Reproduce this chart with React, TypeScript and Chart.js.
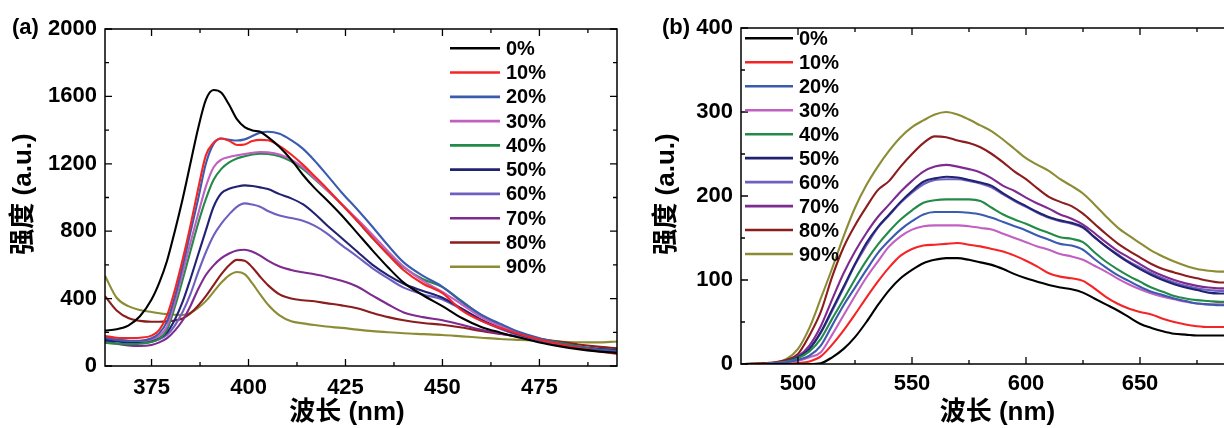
import React, { useEffect, useRef } from "react";
import { Chart, registerables } from "chart.js";

Chart.register(...registerables);

// ---------- shared ----------
const SERIES_LABELS = ["0%", "10%", "20%", "30%", "40%", "50%", "60%", "70%", "80%", "90%"];
const SERIES_COLORS = [
  "#000000",
  "#f52525",
  "#3b5bb0",
  "#c260c2",
  "#238a48",
  "#222272",
  "#6e60c0",
  "#7e2a8e",
  "#8b1d1d",
  "#8c8c34",
];

// ---------- panel (a) ----------
const WAVE_A = [363, 366, 369, 372, 375, 377, 379, 381, 383, 385, 387, 389, 391, 393, 395, 397, 399, 401, 403, 405, 408, 411, 414, 417, 420, 424, 428, 432, 436, 440, 445, 450, 455, 460, 465, 470, 475, 480, 485, 490, 495];
const A_0 = [210, 218, 240, 295, 395, 495, 625, 800, 990, 1200, 1410, 1580, 1638, 1622, 1550, 1465, 1418, 1398, 1390, 1358, 1300, 1225, 1135, 1057, 990, 895, 790, 685, 585, 495, 420, 355, 285, 232, 198, 168, 140, 118, 100, 87, 78];
const A_10 = [178, 168, 166, 168, 180, 215, 300, 450, 630, 830, 1050, 1250, 1325, 1350, 1336, 1312, 1315, 1335, 1342, 1340, 1305, 1255, 1195, 1127, 1058, 960, 862, 760, 660, 568, 488, 432, 330, 268, 225, 188, 157, 130, 106, 88, 72];
const A_20 = [168, 155, 150, 150, 165, 195, 265, 410, 590, 790, 990, 1200, 1318, 1350, 1343, 1338, 1345, 1365, 1385, 1390, 1378, 1340, 1290, 1220, 1140, 1030, 930, 825, 715, 615, 535, 470, 380, 305, 250, 200, 165, 135, 112, 96, 86];
const A_30 = [175, 160, 150, 148, 158, 180, 235, 380, 550, 730, 900, 1065, 1180, 1225, 1240, 1250, 1258, 1265, 1270, 1268, 1255, 1225, 1180, 1115, 1050, 962, 872, 778, 680, 590, 505, 440, 365, 290, 236, 192, 158, 130, 108, 92, 82];
const A_40 = [138, 132, 130, 132, 142, 162, 215, 350, 510, 680, 845, 990, 1105, 1170, 1208, 1232, 1245, 1255, 1260, 1258, 1245, 1215, 1170, 1110, 1048, 960, 862, 758, 665, 585, 515, 468, 385, 300, 240, 192, 163, 140, 115, 98, 88];
const A_50 = [155, 145, 140, 140, 150, 165, 200, 275, 380, 515, 660, 805, 945, 1025, 1052, 1065, 1072, 1068, 1060, 1050, 1020, 995, 960, 905, 840, 760, 680, 600, 538, 488, 445, 405, 340, 275, 225, 185, 155, 130, 112, 100, 95];
const A_60 = [160, 148, 140, 138, 145, 158, 185, 240, 320, 425, 555, 675, 775, 845, 900, 945, 965, 958, 945, 920, 893, 878, 862, 833, 790, 717, 650, 580, 520, 465, 425, 395, 335, 270, 220, 180, 150, 125, 108, 97, 92];
const A_70 = [150, 132, 122, 119, 125, 140, 165, 210, 270, 355, 455, 540, 597, 640, 668, 686, 690, 678, 655, 625, 590, 570, 556, 544, 530, 506, 472, 418, 365, 318, 290, 272, 245, 215, 192, 172, 150, 132, 115, 102, 95];
const A_80 = [415, 330, 285, 268, 263, 263, 265, 270, 282, 312, 358, 415, 480, 545, 598, 630, 625, 585, 530, 480, 425, 400, 390, 384, 373, 360, 343, 315, 290, 271, 255, 245, 228, 208, 190, 175, 160, 145, 128, 115, 105];
const A_90 = [535, 405, 355, 332, 320, 313, 308, 304, 303, 315, 345, 385, 440, 495, 538, 558, 545, 490, 425, 365, 300, 265, 253, 243, 234, 226, 216, 207, 200, 194, 189, 184, 176, 168, 160, 155, 150, 145, 141, 140, 145];
const SERIES_A = [A_0, A_10, A_20, A_30, A_40, A_50, A_60, A_70, A_80, A_90];

const X_TICKS_A = [375, 400, 425, 450, 475];
const X_MINOR_A = [387.5, 412.5, 437.5, 462.5, 487.5];
const Y_TICKS_A = [0, 400, 800, 1200, 1600, 2000];
const Y_MINOR_A = [200, 600, 1000, 1400, 1800];

// ---------- panel (b) ----------
const WAVE_B = [475, 485, 490, 495, 500, 505, 510, 515, 520, 525, 530, 535, 540, 545, 550, 555, 560, 565, 570, 575, 580, 585, 590, 595, 600, 605, 610, 615, 620, 625, 630, 635, 640, 645, 650, 655, 660, 665, 670, 675, 680, 685, 690];
const B_0 = [0, 0, 0, 0, 0, 0, 1, 8, 18, 32, 50, 70, 88, 102, 112, 120, 124, 126, 126, 124, 121, 118, 113, 107, 102, 98, 94, 91, 89, 85, 78, 71, 64, 56, 48, 43, 39, 36, 35, 34, 34, 34, 34];
const B_10 = [0, 0, 0, 0, 1, 3, 9, 23, 40, 59, 79, 98, 115, 129, 137, 141, 142, 143, 144, 142, 140, 137, 134, 129, 123, 116, 108, 104, 102, 99, 90, 80, 72, 66, 62, 59, 54, 50, 47, 45, 44, 44, 44];
const B_20 = [0, 0, 1, 2, 5, 10, 22, 46, 70, 91, 112, 132, 147, 160, 170, 178, 181, 181, 181, 180, 178, 174, 169, 164, 159, 153, 148, 143, 141, 136, 125, 115, 106, 99, 92, 86, 82, 78, 75, 72, 71, 70, 70];
const B_30 = [0, 0, 1, 2, 4, 8, 14, 35, 58, 81, 103, 122, 140, 152, 160, 164, 165, 165, 165, 164, 162, 160, 155, 150, 145, 140, 136, 131, 128, 124, 117, 110, 102, 95, 89, 84, 80, 77, 74, 72, 71, 71, 71];
const B_40 = [0, 0, 1, 3, 7, 15, 30, 54, 77, 101, 123, 142, 158, 172, 183, 192, 195, 196, 196, 196, 194, 186, 178, 172, 167, 161, 156, 151, 149, 145, 133, 122, 113, 105, 98, 91, 86, 81, 78, 76, 75, 74, 74];
const B_50 = [0, 0, 1, 3, 8, 18, 38, 65, 92, 119, 144, 163, 178, 193, 206, 217, 221, 223, 222, 219, 216, 212, 203, 195, 188, 181, 175, 171, 168, 163, 151, 140, 130, 121, 113, 106, 100, 95, 91, 88, 85, 84, 84];
const B_60 = [0, 0, 1, 3, 8, 18, 37, 63, 90, 118, 141, 162, 177, 192, 204, 214, 219, 220, 220, 218, 215, 210, 202, 194, 187, 180, 174, 170, 167, 162, 151, 140, 131, 122, 115, 108, 102, 97, 93, 90, 88, 87, 87];
const B_70 = [0, 0, 1, 3, 9, 22, 45, 77, 108, 134, 156, 175, 190, 205, 218, 229, 235, 237, 235, 232, 228, 221, 212, 206, 198, 191, 185, 178, 173, 166, 156, 145, 135, 127, 119, 111, 105, 100, 96, 93, 91, 90, 90];
const B_80 = [0, 1, 2, 5, 12, 34, 62, 104, 139, 165, 187, 207, 218, 235, 250, 263, 271, 270, 266, 263, 258, 250, 240, 229, 220, 209, 199, 193, 188, 179, 167, 155, 144, 135, 127, 119, 113, 109, 105, 102, 99, 97, 97];
const B_90 = [0, 1, 2, 6, 18, 43, 78, 114, 152, 186, 213, 235, 254, 270, 282, 290, 297, 300, 297, 291, 284, 277, 267, 256, 245, 237, 230, 220, 212, 203, 190, 176, 163, 153, 144, 135, 128, 122, 117, 113, 111, 110, 110];
const SERIES_B = [B_0, B_10, B_20, B_30, B_40, B_50, B_60, B_70, B_80, B_90];

const X_TICKS_B = [500, 550, 600, 650];
const X_MAJOR_B = [500, 550, 600, 650, 700];
const X_MINOR_B = [525, 575, 625, 675];
const Y_TICKS_B = [0, 100, 200, 300, 400];
const Y_MINOR_B = [50, 150, 250, 350];

const TICK_FONT = { family: "'Liberation Sans', Arial, Helvetica, sans-serif", size: 22, weight: "bold" as const };
const LEGEND_FONT = "bold 20px 'Liberation Sans', Arial, Helvetica, sans-serif";
const TITLE_FONT = "bold 26px 'Liberation Sans', 'Noto Sans CJK SC', sans-serif";
const TAG_FONT = "bold 22px 'Liberation Sans', Arial, Helvetica, sans-serif";
const X_TITLE = "波长 (nm)";
const Y_TITLE = "强度 (a.u.)";

type PanelCfg = {
  tag: string;
  wave: number[];
  series: number[][];
  xMin: number;
  xMax: number;
  yMax: number;
  xTicks: number[];
  xMajor: number[];
  xMinor: number[];
  yTicks: number[];
  yMinor: number[];
  width: number;
  left: number;
  yAxisWidth: number;
  xAxisHeight: number;
  xLabelPad: number;
  padTop: number;
  padRight: number;
  legend: { x0: number; x1: number; tx: number; y0: number; dy: number };
  tagPos: [number, number];
  xTitlePos: [number, number];
  yTitlePos: [number, number];
};

const PANEL_A: PanelCfg = {
  tag: "(a)",
  wave: WAVE_A,
  series: SERIES_A,
  xMin: 363,
  xMax: 495,
  yMax: 2000,
  xTicks: X_TICKS_A,
  xMajor: X_TICKS_A,
  xMinor: X_MINOR_A,
  yTicks: Y_TICKS_A,
  yMinor: Y_MINOR_A,
  width: 620,
  left: 0,
  yAxisWidth: 105,
  xAxisHeight: 62,
  xLabelPad: 9,
  padTop: 29,
  padRight: 3,
  legend: { x0: 450, x1: 500, tx: 506, y0: 48.3, dy: 24.27 },
  tagPos: [12, 28],
  xTitlePos: [347, 413],
  yTitlePos: [24, 194],
};

const PANEL_B: PanelCfg = {
  tag: "(b)",
  wave: WAVE_B,
  series: SERIES_B,
  xMin: 475,
  xMax: 700,
  yMax: 400,
  xTicks: X_TICKS_B,
  xMajor: X_MAJOR_B,
  xMinor: X_MINOR_B,
  yTicks: Y_TICKS_B,
  yMinor: Y_MINOR_B,
  width: 634,
  left: 620,
  yAxisWidth: 121,
  xAxisHeight: 64,
  xLabelPad: 7,
  padTop: 28,
  padRight: 0,
  legend: { x0: 125, x1: 173, tx: 179, y0: 38.3, dy: 23.97 },
  tagPos: [42, 28],
  xTitlePos: [377.5, 413],
  yTitlePos: [47, 194],
};

function makeDecorPlugin(cfg: PanelCfg) {
  return {
    id: "decor",
    afterDatasetsDraw(chart: any) {
      const { ctx, chartArea } = chart;
      const { left, right, top, bottom } = chartArea;
      const xs = chart.scales.x;
      const ys = chart.scales.y;
      ctx.save();
      ctx.strokeStyle = "#000";
      ctx.lineWidth = 1.5;
      ctx.beginPath();
      ctx.rect(left, top, right - left, bottom - top);
      ctx.stroke();

      const MAJ = 7;
      const MIN = 4;
      ctx.lineWidth = 1.3;
      ctx.beginPath();
      const xTick = (v: number, len: number) => {
        const p = xs.getPixelForValue(v);
        ctx.moveTo(p, bottom);
        ctx.lineTo(p, bottom - len);
        ctx.moveTo(p, top);
        ctx.lineTo(p, top + len);
      };
      const yTick = (v: number, len: number) => {
        const p = ys.getPixelForValue(v);
        ctx.moveTo(left, p);
        ctx.lineTo(left + len, p);
        ctx.moveTo(right, p);
        ctx.lineTo(right - len, p);
      };
      cfg.xMajor.forEach((v) => xTick(v, MAJ));
      cfg.xMinor.forEach((v) => xTick(v, MIN));
      cfg.yTicks.forEach((v) => yTick(v, MAJ));
      cfg.yMinor.forEach((v) => yTick(v, MIN));
      ctx.stroke();

      // legend
      ctx.font = LEGEND_FONT;
      ctx.textAlign = "left";
      ctx.textBaseline = "middle";
      SERIES_LABELS.forEach((lab, i) => {
        const yy = cfg.legend.y0 + i * cfg.legend.dy;
        ctx.strokeStyle = SERIES_COLORS[i];
        ctx.lineWidth = 2.6;
        ctx.beginPath();
        ctx.moveTo(cfg.legend.x0, yy);
        ctx.lineTo(cfg.legend.x1, yy);
        ctx.stroke();
        ctx.fillStyle = "#000";
        ctx.fillText(lab, cfg.legend.tx, yy + 1);
      });

      // panel tag
      ctx.font = TAG_FONT;
      ctx.fillStyle = "#000";
      ctx.textAlign = "left";
      ctx.textBaseline = "middle";
      ctx.fillText(cfg.tag, cfg.tagPos[0], cfg.tagPos[1]);

      // axis titles
      ctx.font = TITLE_FONT;
      ctx.textAlign = "center";
      ctx.textBaseline = "middle";
      ctx.fillText(X_TITLE, cfg.xTitlePos[0], cfg.xTitlePos[1]);
      ctx.save();
      ctx.translate(cfg.yTitlePos[0], cfg.yTitlePos[1]);
      ctx.rotate(-Math.PI / 2);
      ctx.fillText(Y_TITLE, 0, 0);
      ctx.restore();

      ctx.restore();
    },
  };
}

function Panel({ cfg }: { cfg: PanelCfg }) {
  const ref = useRef<HTMLCanvasElement | null>(null);
  useEffect(() => {
    if (!ref.current) return;
    const datasets = cfg.series.map((vals, i) => ({
      label: SERIES_LABELS[i],
      data: cfg.wave.map((x, j) => ({ x, y: vals[j] })),
      borderColor: SERIES_COLORS[i],
      backgroundColor: SERIES_COLORS[i],
      borderWidth: 2.1,
      pointRadius: 0,
      fill: false,
      cubicInterpolationMode: "monotone" as const,
    }));
    const chart = new Chart(ref.current, {
      type: "line",
      data: { datasets },
      options: {
        responsive: false,
        animation: false,
        events: [],
        layout: { padding: { top: cfg.padTop, right: cfg.padRight, left: 0, bottom: 0 } },
        plugins: { legend: { display: false }, tooltip: { enabled: false }, title: { display: false } },
        scales: {
          x: {
            type: "linear",
            min: cfg.xMin,
            max: cfg.xMax,
            grid: { display: false, drawTicks: false },
            border: { display: false },
            afterBuildTicks: (s: any) => {
              s.ticks = cfg.xTicks.map((value) => ({ value }));
            },
            afterFit: (s: any) => {
              s.height = cfg.xAxisHeight;
            },
            ticks: {
              font: TICK_FONT,
              color: "#000",
              padding: cfg.xLabelPad,
              maxRotation: 0,
              autoSkip: false,
              callback: (v: any) => String(v),
            },
          },
          y: {
            type: "linear",
            min: 0,
            max: cfg.yMax,
            grid: { display: false, drawTicks: false },
            border: { display: false },
            afterBuildTicks: (s: any) => {
              s.ticks = cfg.yTicks.map((value) => ({ value }));
            },
            afterFit: (s: any) => {
              s.width = cfg.yAxisWidth;
            },
            ticks: {
              font: TICK_FONT,
              color: "#000",
              padding: 8,
              autoSkip: false,
              callback: (v: any) => String(v),
            },
          },
        },
      },
      plugins: [makeDecorPlugin(cfg)],
    });
    return () => chart.destroy();
  }, [cfg]);
  return (
    <canvas
      ref={ref}
      width={cfg.width}
      height={428}
      style={{ position: "absolute", left: cfg.left, top: 0, width: cfg.width, height: 428 }}
    />
  );
}

export default function App() {
  return (
    <div
      style={{
        position: "fixed",
        left: 0,
        top: 0,
        width: 1224,
        height: 428,
        overflow: "hidden",
        background: "#fff",
      }}
    >
      <Panel cfg={PANEL_A} />
      <Panel cfg={PANEL_B} />
    </div>
  );
}
